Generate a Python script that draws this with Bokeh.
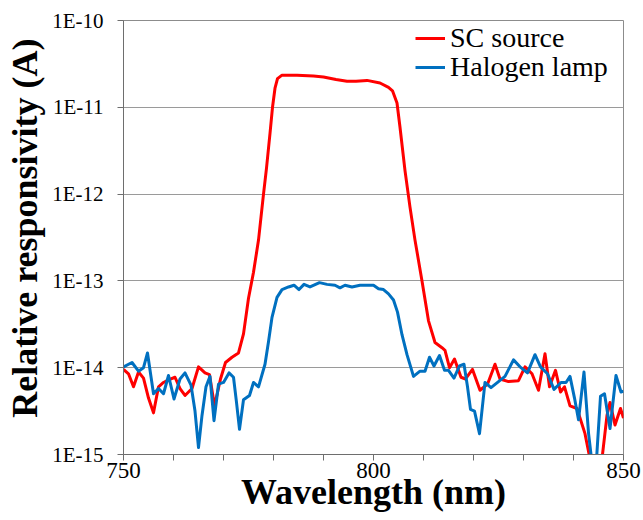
from bokeh.plotting import figure
from bokeh.models import FixedTicker, CustomJSTickFormatter, Range1d, Legend, LegendItem, Title
from bokeh.embed import file_html
from bokeh.resources import INLINE

# --- data (wavelength in nm, responsivity exponent log10(A)) ---
sc_wavelength = [750, 751, 752, 753, 754, 755, 756, 757, 758, 759, 760.3, 761.3, 762.3, 763.7,
                 765, 766.3, 767.2, 768.2, 769.4, 770.4, 771.7, 773, 774, 775, 776, 777, 778,
                 778.6, 779.3, 779.8, 780.3, 780.8, 781.7, 784.7, 788, 790, 792.5, 794.7, 796.5,
                 798.7, 801.3, 803, 803.8, 804.7, 805.3, 806.3, 807.3, 808.3, 809.7, 811, 812.3,
                 813.7, 814.3, 815.2, 816.2, 817.5, 818.4, 819.8, 821.3, 822.8, 824.3, 825.3, 827,
                 829, 830.3, 831.7, 833, 834.3, 835.2, 836.4, 837.4, 838.2, 839.3, 840.7, 842.3,
                 843.3, 844.5, 845.7, 846.7, 847.3, 848.3, 849.4, 850]
sc_exponent = [-14.02, -14.07, -14.22, -14.05, -14.12, -14.35, -14.52, -14.22, -14.17, -14.14,
               -14.11, -14.24, -14.32, -14.24, -13.99, -14.06, -14.08, -14.44, -14.13, -13.94,
               -13.88, -13.83, -13.61, -13.2, -12.9, -12.53, -12.0, -11.7, -11.3, -11.0, -10.78,
               -10.67, -10.63, -10.63, -10.64, -10.65, -10.68, -10.70, -10.70, -10.69, -10.72,
               -10.77, -10.81, -10.95, -11.23, -11.73, -12.15, -12.53, -13.0, -13.46, -13.71,
               -13.77, -13.80, -14.0, -13.90, -14.11, -14.13, -14.02, -14.26, -14.19, -13.96,
               -14.13, -14.16, -14.15, -13.99, -14.07, -14.26, -13.84, -14.22, -14.03, -14.28,
               -14.22, -14.44, -14.47, -14.76, -15.05, -15.3, -15.05, -14.55, -14.40, -14.66,
               -14.47, -14.58]

halogen_wavelength = [750, 751.7, 753, 754, 754.8, 756, 757, 758, 759, 760.1, 761.3, 762.3, 763.5,
                      764.3, 765, 765.7, 766.5, 767.3, 768.1, 769, 770, 771.1, 772, 772.6, 773.2,
                      774, 775.2, 776, 777, 778.3, 779, 779.7, 780.7, 781.7, 783, 784.1, 785.1,
                      786.1, 787.3, 789.2, 790.7, 792.3, 793.3, 794.3, 795.7, 797.3, 800, 801, 802,
                      803, 804, 804.8, 805.7, 806.7, 808, 809.3, 810.3, 811.2, 812.1, 813.2, 814.2,
                      815, 816.1, 817.2, 818.1, 818.8, 819.4, 820.2, 821.2, 822.3, 823.5, 825,
                      826.3, 828, 829.3, 830.8, 832.3, 833.4, 834.8, 836.1, 837.5, 838.5, 839.3,
                      840.2, 841, 842.1, 843, 843.8, 844.5, 845.4, 846.2, 847.3, 848.5, 849.5, 850]
halogen_exponent = [-13.99, -13.94, -14.04, -14.0, -13.83, -14.30, -14.24, -14.30, -14.09, -14.36,
                    -14.13, -14.06, -14.20, -14.5, -14.92, -14.55, -14.22, -14.10, -14.61, -14.19,
                    -14.17, -14.06, -14.11, -14.4, -14.71, -14.37, -14.32, -14.17, -14.22, -13.96,
                    -13.7, -13.42, -13.19, -13.10, -13.07, -13.05, -13.10, -13.04, -13.07, -13.02,
                    -13.04, -13.05, -13.08, -13.05, -13.07, -13.05, -13.05, -13.09, -13.10, -13.15,
                    -13.22, -13.36, -13.62, -13.85, -14.10, -14.04, -14.04, -13.88, -13.98, -13.86,
                    -14.03, -14.03, -14.12, -13.98, -13.96, -14.22, -14.48, -14.50, -14.76, -14.17,
                    -14.23, -14.16, -14.10, -13.91, -13.99, -14.06, -13.85, -13.99, -14.07, -14.25,
                    -14.17, -14.17, -14.10, -14.35, -14.6, -14.05, -14.75, -15.15, -15.15, -14.33,
                    -14.30, -14.70, -14.09, -14.28, -14.27]

series_names = ["SC source", "Halogen lamp"]
x_major_ticks = [750, 800, 850]
x_minor_ticks = [760, 770, 780, 790, 810, 820, 830, 840]
y_ticks = [1e-15, 1e-14, 1e-13, 1e-12, 1e-11, 1e-10]

sc_values = [10 ** e for e in sc_exponent]
halogen_values = [10 ** e for e in halogen_exponent]

FONT = "'Liberation Serif', 'Times New Roman', serif"
AXIS_COLOR = "#6e6e6e"

p = figure(width=643, height=520, y_axis_type="log",
           x_range=Range1d(750, 850), y_range=Range1d(1e-15, 1e-10),
           output_backend="svg", toolbar_location=None,
           min_border_left=123, min_border_right=20, min_border_top=20, min_border_bottom=66)

r_sc = p.line(sc_wavelength, sc_values, line_color="#FF0000", line_width=3, line_join="round")
r_hal = p.line(halogen_wavelength, halogen_values, line_color="#0070C0", line_width=3,
               line_join="round")

p.outline_line_color = "#8c8c8c"
p.outline_line_width = 1
p.background_fill_color = "white"
p.border_fill_color = "white"

# x axis
p.xaxis.ticker = FixedTicker(ticks=x_major_ticks, minor_ticks=x_minor_ticks)
p.xaxis.axis_label = "Wavelength (nm)"
p.xaxis.axis_label_text_font = FONT
p.xaxis.axis_label_text_font_style = "bold"
p.xaxis.axis_label_text_font_size = "36px"
p.xaxis.axis_label_text_color = "black"
p.xaxis.axis_label_standoff = -9
p.xaxis.major_label_text_font = FONT
p.xaxis.major_label_text_font_size = "23px"
p.xaxis.major_label_text_color = "black"
p.xaxis.major_label_standoff = 2
p.xaxis.major_tick_out = 6
p.xaxis.major_tick_in = 0
p.xaxis.minor_tick_out = 6
p.xaxis.minor_tick_in = 0
p.xaxis.axis_line_color = AXIS_COLOR
p.xaxis.major_tick_line_color = AXIS_COLOR
p.xaxis.minor_tick_line_color = AXIS_COLOR
p.xgrid.visible = False

# y axis
p.yaxis.ticker = FixedTicker(ticks=y_ticks, minor_ticks=[])
p.yaxis.formatter = CustomJSTickFormatter(code="return '1E' + Math.round(Math.log10(tick)).toString();")
p.yaxis.major_label_text_font = FONT
p.yaxis.major_label_text_font_size = "21px"
p.yaxis.major_label_text_color = "black"
p.yaxis.major_label_standoff = 14
p.yaxis.major_tick_out = 6
p.yaxis.major_tick_in = 0
p.yaxis.minor_tick_line_color = None
p.yaxis.axis_line_color = AXIS_COLOR
p.yaxis.major_tick_line_color = AXIS_COLOR
p.ygrid.ticker = FixedTicker(ticks=y_ticks, minor_ticks=[])
p.ygrid.grid_line_color = "#9a9a9a"
p.ygrid.grid_line_width = 1

# y-axis title as a side title (sits a little above the frame centre, as in the original)
ytitle = Title(text="Relative responsivity (A)", align="right", offset=18,
               vertical_align="top", standoff=6,
               text_font=FONT, text_font_style="bold", text_font_size="36px",
               text_color="black")
p.add_layout(ytitle, "left")

# legend: one box per entry so the rows sit close together like the original
for name, rend, loc in [(series_names[0], r_sc, (292, 400)),
                        (series_names[1], r_hal, (292, 371))]:
    lg = Legend(items=[LegendItem(label=name, renderers=[rend])], location=loc)
    lg.border_line_color = None
    lg.background_fill_alpha = 0
    lg.label_text_font = FONT
    lg.label_text_font_size = "28px"
    lg.label_text_color = "black"
    lg.glyph_width = 30
    lg.label_standoff = 5
    lg.padding = 0
    lg.margin = 0
    p.add_layout(lg, "center")

open("out.html", "w").write(file_html(p, INLINE))
